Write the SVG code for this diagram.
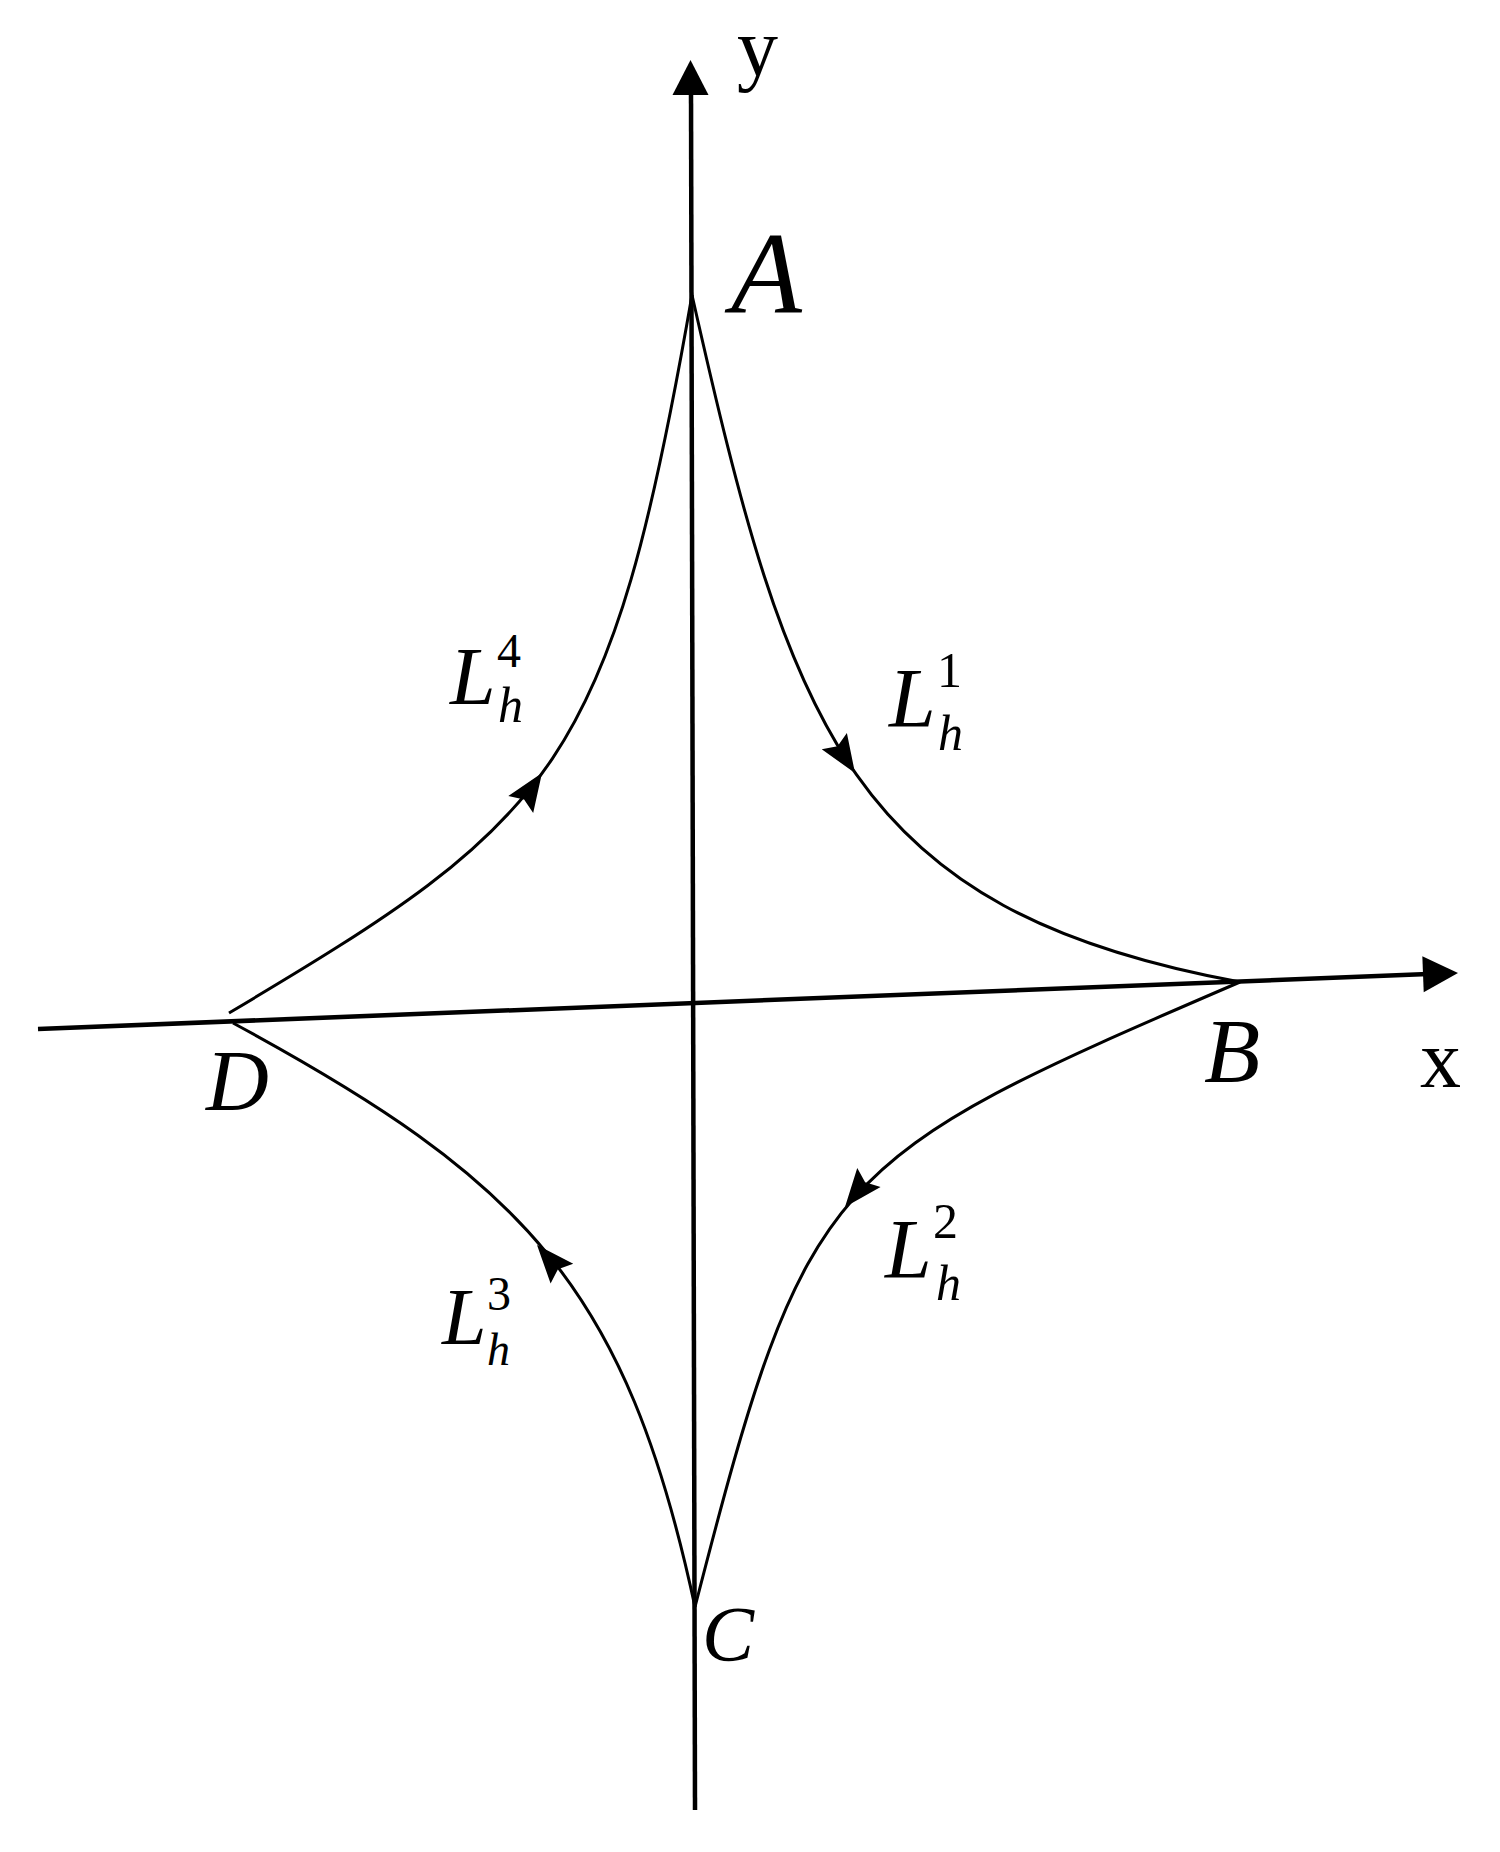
<svg xmlns="http://www.w3.org/2000/svg" xmlns:xlink="http://www.w3.org/1999/xlink" width="1500" height="1852" viewBox="0 0 1500 1852">
<style>
.axis{stroke:#000;stroke-width:4.5;fill:none}
.curve{stroke:#000;stroke-width:3;fill:none}
.lbl{font-family:"Liberation Serif","Times New Roman",serif;fill:#000}
.it{font-style:italic}
.up{font-style:normal}
</style>
<defs>
<path id="ah" d="M0,0 L-38,-15 L-32,0 L-38,15 Z" fill="#000"/>
<path id="axh" d="M0,0 L-35,-18 L-35,18 Z" fill="#000"/>
</defs>
<rect width="1500" height="1852" fill="#fff"/>
<g id="axes">
<line class="axis" x1="695" y1="1810" x2="691" y2="90"/>
<use xlink:href="#axh" transform="translate(690.5,60) rotate(-90)"/>
<line class="axis" x1="38" y1="1029" x2="1428" y2="974"/>
<use xlink:href="#axh" transform="translate(1458,973) rotate(-2.2)"/>
<text class="lbl" x="737" y="75" font-size="82">y</text>
<text class="lbl" x="1420" y="1087" font-size="82">x</text>
</g>
<g id="node-A"><text class="lbl it" x="731" y="313" font-size="116">A</text></g>
<g id="node-B"><text class="lbl it" x="1204" y="1082" font-size="92">B</text></g>
<g id="node-C"><text class="lbl it" x="702" y="1660" font-size="78">C</text></g>
<g id="node-D"><text class="lbl it" x="206" y="1110" font-size="87">D</text></g>
<g id="connectors">
<path id="L1" class="curve" d="M692,295 C790,730 850,910 1240,982"/>
<path id="L4" class="curve" d="M229,1013 C556,819 610,768 692,295"/>
<path id="L2" class="curve" d="M1240,982 C826,1160 807,1171 695,1607"/>
<path id="L3" class="curve" d="M695,1607 C626,1285 523,1180 233,1023"/>
<use xlink:href="#ah" transform="translate(855,773) rotate(57)"/>
<use xlink:href="#ah" transform="translate(542,773) rotate(-56)"/>
<use xlink:href="#ah" transform="translate(845,1207) rotate(129)"/>
<use xlink:href="#ah" transform="translate(537,1245) rotate(-131)"/>
</g>
<g id="label-L1">
<text class="lbl it" font-size="84"><tspan x="889" y="727">L</tspan><tspan class="up" x="937" y="687" font-size="50">1</tspan><tspan x="938" y="750" font-size="50">h</tspan></text>
</g>
<g id="label-L4">
<text class="lbl it" font-size="82"><tspan x="450" y="704">L</tspan><tspan class="up" x="497" y="667" font-size="48">4</tspan><tspan x="498" y="722" font-size="50">h</tspan></text>
</g>
<g id="label-L2">
<text class="lbl it" font-size="84"><tspan x="885" y="1278">L</tspan><tspan class="up" x="933" y="1238" font-size="50">2</tspan><tspan x="936" y="1300" font-size="50">h</tspan></text>
</g>
<g id="label-L3">
<text class="lbl it" font-size="80"><tspan x="442" y="1344">L</tspan><tspan class="up" x="487" y="1310" font-size="48">3</tspan><tspan x="487" y="1365" font-size="46">h</tspan></text>
</g>
</svg>
